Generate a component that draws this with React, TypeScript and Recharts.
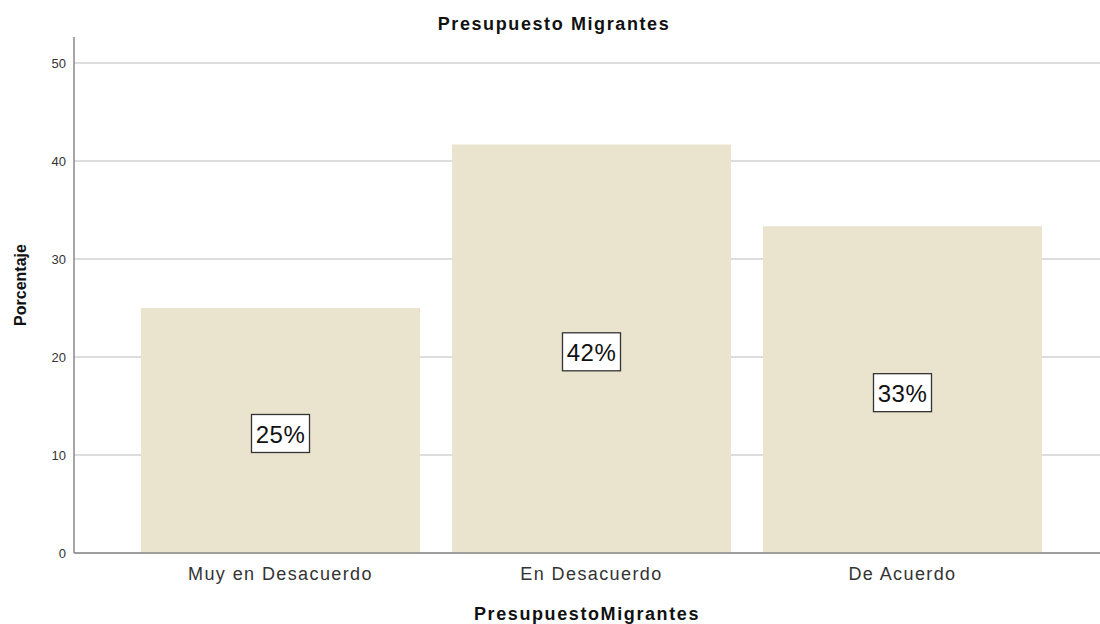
import React from 'react';
import { BarChart, Bar, XAxis, YAxis, CartesianGrid, LabelList } from 'recharts';

const categories = ['Muy en Desacuerdo', 'En Desacuerdo', 'De Acuerdo'];
const percentages = [25.0, 41.67, 33.33];
const barLabels = ['25%', '42%', '33%'];
const yTicks = [0, 10, 20, 30, 40, 50];

const data = categories.map((c, i) => ({ name: c, value: percentages[i], label: barLabels[i] }));

const FONT = 'Arial, "Liberation Sans", Helvetica, sans-serif';

const BoxLabel = (props: any) => {
  const { x, y, width, height, value } = props;
  const cx = x + width / 2;
  const cy = y + height / 2 + 3;
  const w = 58;
  const h = 38;
  return (
    <g>
      <rect x={cx - w / 2} y={cy - h / 2} width={w} height={h} fill="#ffffff" stroke="#333333" strokeWidth={1.3} />
      <text x={cx} y={cy + 1} textAnchor="middle" dominantBaseline="central" fontFamily={FONT} fontSize={24} fill="#111111" letterSpacing={0.5}>
        {value}
      </text>
    </g>
  );
};

export default function App() {
  return (
    <div style={{ position: 'absolute', left: 0, top: 0, width: 1100, height: 624, background: '#ffffff', fontFamily: FONT }}>
      <BarChart
        width={1100}
        height={624}
        data={data}
        margin={{ top: 37, right: 0, left: 0, bottom: 0 }}
      >
        <CartesianGrid vertical={false} horizontalValues={yTicks} stroke="#d2d2d2" strokeWidth={1.6} />
        <XAxis
          dataKey="name"
          height={71}
          padding={{ left: 51, right: 42 }}
          axisLine={{ stroke: '#888888', strokeWidth: 1.5 }}
          tickLine={false}
          tick={{ fontFamily: FONT, fontSize: 18, fill: '#333333', letterSpacing: 1.4 }}
          tickMargin={8}
        />
        <YAxis
          width={74}
          domain={[0, 52.65]}
          ticks={yTicks}
          allowDataOverflow
          axisLine={{ stroke: '#888888', strokeWidth: 1.5 }}
          tickLine={false}
          tick={{ fontFamily: FONT, fontSize: 13, fill: '#333333' }}
          tickMargin={2}
        />
        <Bar dataKey="value" fill="#EAE4CF" barSize={279} isAnimationActive={false}>
          <LabelList dataKey="label" content={BoxLabel} />
        </Bar>
      </BarChart>
      <div style={{ position: 'absolute', left: 4, width: 1100, top: 13, textAlign: 'center', fontWeight: 'bold', fontSize: 18, letterSpacing: 1.6, color: '#111', lineHeight: '22px', whiteSpace: 'nowrap' }}>
        Presupuesto Migrantes
      </div>
      <div style={{ position: 'absolute', left: 74, width: 1026, top: 603, textAlign: 'center', fontWeight: 'bold', fontSize: 18, letterSpacing: 1.6, color: '#111', lineHeight: '22px', whiteSpace: 'nowrap' }}>
        PresupuestoMigrantes
      </div>
      <div style={{ position: 'absolute', left: 21, top: 285, width: 0, height: 0 }}>
        <div style={{ position: 'absolute', transform: 'translate(-50%, -50%) rotate(-90deg)', whiteSpace: 'nowrap', fontWeight: 'bold', fontSize: 16, color: '#111', lineHeight: '20px' }}>
          Porcentaje
        </div>
      </div>
    </div>
  );
}
